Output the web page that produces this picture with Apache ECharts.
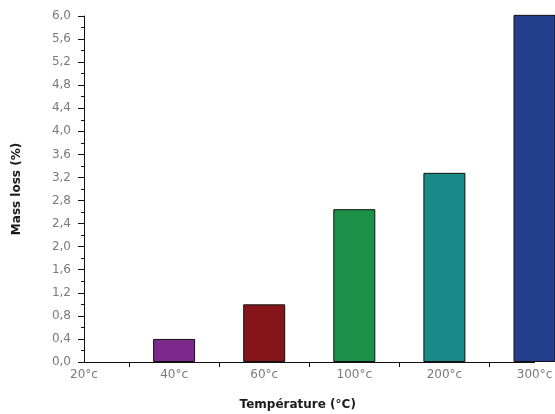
<!DOCTYPE html>
<html>
<head>
<meta charset="utf-8">
<script src="https://cdn.jsdelivr.net/npm/echarts@6/dist/echarts.min.js"></script>
<style>
  html, body { margin: 0; padding: 0; background: #ffffff; }
  #chart { width: 555px; height: 414px; }
</style>
</head>
<body>
<div id="chart"></div>
<script>
// Heat-treatment temperatures and the mass lost at each one
const temperatures = ['20°c', '40°c', '60°c', '100°c', '200°c', '300°c'];
const massLoss = [0, 0.4, 1.0, 2.65, 3.28, 6.02];
const barColors = ['#7b2a8c', '#7b2a8c', '#851518', '#1b9048', '#1a8a88', '#243f8e'];

// Value axis range and step
const yMin = 0;
const yMax = 6;
const yStep = 0.4;

const labelFont = 'DejaVu Sans';
const labelColor = '#7a7a7a';
const inkColor = '#111111';

const chart = echarts.init(document.getElementById('chart'), null, { renderer: 'canvas' });

chart.setOption({
  animation: false,
  backgroundColor: '#ffffff',
  grid: { left: 84, right: 20.5, top: 16, bottom: 52, outerBoundsMode: 'none', containLabel: false },
  xAxis: [
    {
      type: 'category',
      data: temperatures,
      boundaryGap: false,
      position: 'bottom',
      axisLine: { show: true, lineStyle: { color: inkColor, width: 1 } },
      axisTick: { show: false },
      axisLabel: { color: labelColor, fontFamily: labelFont, fontSize: 12, margin: 7 },
      splitLine: { show: false },
      name: 'Température (°C)',
      nameLocation: 'middle',
      nameGap: 37,
      nameTextStyle: {
        color: '#1a1a1a', fontFamily: labelFont, fontSize: 12, fontWeight: 'bold',
        padding: [0, 23, 0, 0]
      }
    },
    {
      // ticks sitting halfway between neighbouring temperatures
      type: 'category',
      data: temperatures.slice(1),
      boundaryGap: true,
      position: 'bottom',
      axisLine: { show: false },
      axisTick: { show: true, alignWithLabel: true, length: 5, lineStyle: { color: inkColor } },
      axisLabel: { show: false },
      splitLine: { show: false }
    }
  ],
  yAxis: {
    type: 'value',
    min: yMin,
    max: yMax,
    interval: yStep,
    axisLine: { show: true, lineStyle: { color: inkColor, width: 1 } },
    axisTick: { show: true, length: 6, lineStyle: { color: inkColor } },
    minorTick: { show: true, splitNumber: 2, length: 3, lineStyle: { color: inkColor } },
    splitLine: { show: false },
    minorSplitLine: { show: false },
    axisLabel: {
      color: labelColor, fontFamily: labelFont, fontSize: 12, margin: 13,
      formatter: v => v.toFixed(1).replace('.', ',')
    },
    name: 'Mass loss (%)',
    nameLocation: 'middle',
    nameGap: 61,
    nameTextStyle: { color: '#1a1a1a', fontFamily: labelFont, fontSize: 12, fontWeight: 'bold' }
  },
  series: [
    {
      type: 'bar',
      xAxisIndex: 0,
      barWidth: 42,
      clip: false,
      data: massLoss.map((v, i) => ({
        value: v,
        itemStyle: {
          color: barColors[i],
          borderColor: inkColor,
          borderWidth: v > 0 ? 1 : 0
        }
      }))
    }
  ]
});
</script>
</body>
</html>
